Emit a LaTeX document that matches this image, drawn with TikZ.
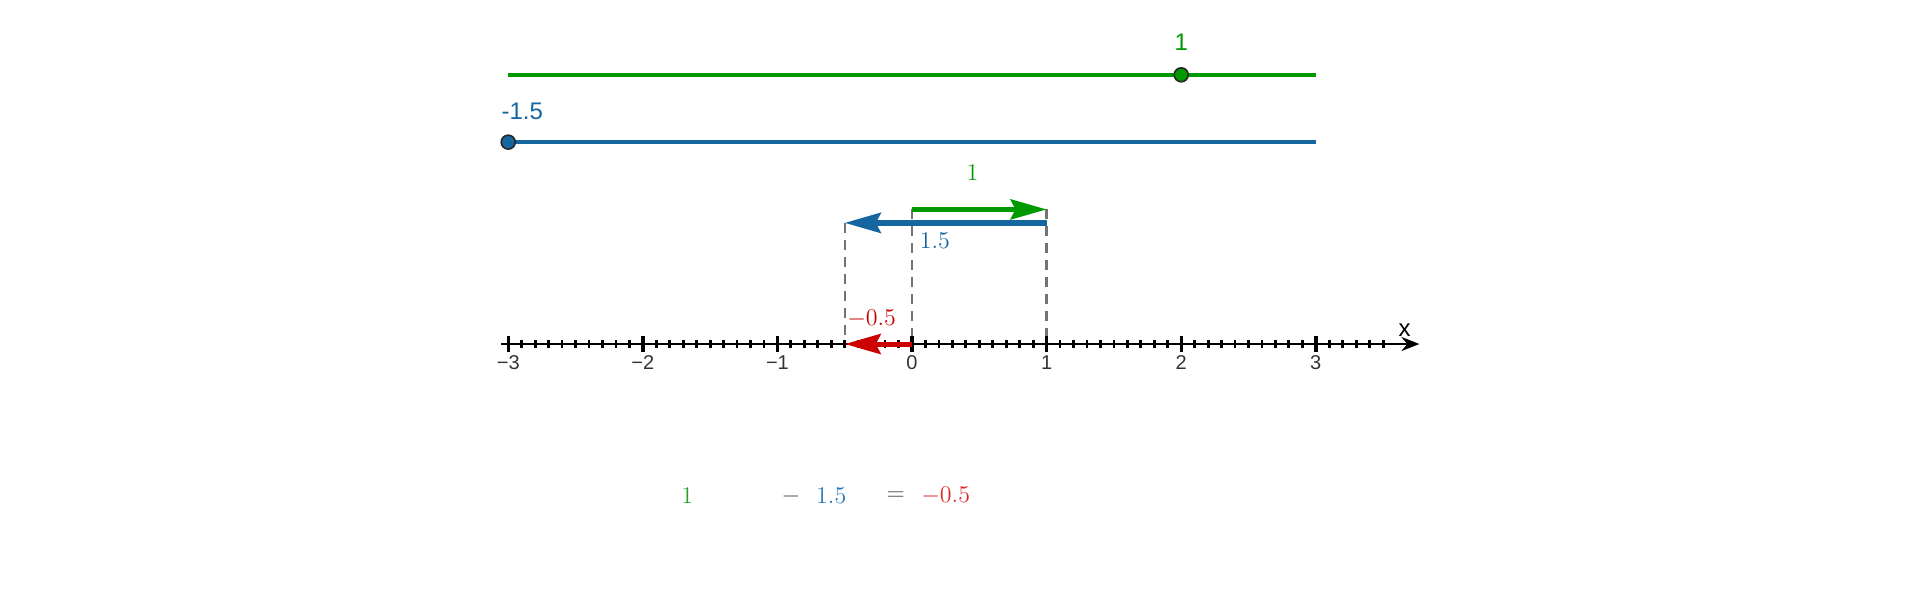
\documentclass[tikz,border=0pt]{standalone}
\usepackage{fontspec}
\setsansfont{Liberation Sans}
\usetikzlibrary{arrows.meta, positioning, calc}
\definecolor{ggreen}{RGB}{0,153,0}
\definecolor{gblue}{RGB}{21,101,160}
\definecolor{gred}{RGB}{204,0,0}
\definecolor{eqgreen}{RGB}{40,160,40}
\definecolor{eqblue}{RGB}{40,120,185}
\definecolor{eqred}{RGB}{225,40,40}
\tikzstyle{slider} = [line width=1.9pt]
\tikzstyle{knob} = [circle, draw=black!85, line width=0.8pt, minimum size=7pt, inner sep=0pt]
\tikzstyle{vec} = [line width=2.5pt, -{Stealth[length=18pt,width=10pt,inset=2.5pt]}]
\tikzstyle{guide} = [black!55, line width=1.2pt, dash pattern=on 5pt off 3.5pt]
\tikzstyle{axis} = [line width=1.3pt, -{Stealth[length=9pt,width=7pt]}]
\tikzstyle{ggblabel} = [font=\sffamily\fontsize{12}{14}\selectfont, inner sep=1pt]
\tikzstyle{ticklabel} = [font=\sffamily\fontsize{10}{12}\selectfont, black!80, below, inner sep=1pt]
\tikzstyle{mathlabel} = [font=\fontsize{12}{14}\selectfont, inner sep=1pt]

\begin{document}
\begin{tikzpicture}[x=67.3pt, y=67.3pt]
      \useasboundingbox (-6.776,-1.902) rectangle (7.489,2.556);
      % sliders
      \coordinate (gsl) at (-3,2);
      \coordinate (gsr) at (3,2);
      \coordinate (bsl) at (-3,1.5);
      \coordinate (bsr) at (3,1.5);
      \draw [slider, ggreen] (gsl) -- (gsr);
      \draw [slider, gblue] (bsl) -- (bsr);
      \node (gk) [knob, fill=ggreen] at (2,2) {};
      \node (bk) [knob, fill=gblue] at (-3,1.5) {};
      \node (gkl) [ggblabel, ggreen, above=7pt of gk] {1};
      \node (bkl) [ggblabel, gblue, above=6pt of bk, xshift=7pt] {-1.5};
      % vectors
      \coordinate (g0) at (0,1);
      \coordinate (g1) at (1,1);
      \coordinate (b0) at (1,0.9);
      \coordinate (b1) at (-0.5,0.9);
      \coordinate (o) at (0,0);
      \coordinate (one) at (1,0);
      \coordinate (half) at (-0.5,0);
      \draw [guide] (b1) -- (half);
      \draw [guide] (g0) -- (o);
      \draw [guide] (g1) -- (one);
      % number line
      \coordinate (axl) at (-3.05,0);
      \coordinate (axr) at (3.77,0);
      \draw [axis] (axl) -- (axr);
      \foreach \i in {-30,...,35} {
        \pgfmathtruncatemacro{\r}{mod(abs(\i),10)}
        \ifnum\r=0
          \draw [line width=1.7pt] (\i/10,-0.06) -- (\i/10,0.06);
        \else
          \draw [line width=1.4pt] (\i/10,-0.03) -- (\i/10,0.03);
        \fi
      }
      \foreach \n/\t in {-3/−3,-2/−2,-1/−1,0/0,1/1,2/2,3/3}
        \node (t\n) [ticklabel] at (\n,-0.07) {\t};
      \node (xl) [ggblabel] at (3.66,0.1) {x};
      \draw [vec, gblue, line width=2.8pt] (b0) -- (b1);
      \draw [vec, ggreen] (g0) -- (g1);
      \draw [vec, gred] (o) -- (half);
      \node (lg) [mathlabel, ggreen] at (0.45,1.27) {$1$};
      \node (lb) [mathlabel, gblue] at (0.17,0.77) {$1.5$};
      \node (lr) [mathlabel, gred] at (-0.30,0.19) {$-0.5$};
      % equation
      \node (e1) [mathlabel, eqgreen] at (-1.67,-1.13) {$1$};
      \node (e2) [mathlabel, black!70] at (-0.90,-1.13) {$-$};
      \node (e3) [mathlabel, eqblue] at (-0.60,-1.13) {$1.5$};
      \node (e4) [mathlabel, black!70] at (-0.12,-1.13) {$=$};
      \node (e5) [mathlabel, eqred] at (0.25,-1.13) {$-0.5$};
    \end{tikzpicture}
\end{document}
